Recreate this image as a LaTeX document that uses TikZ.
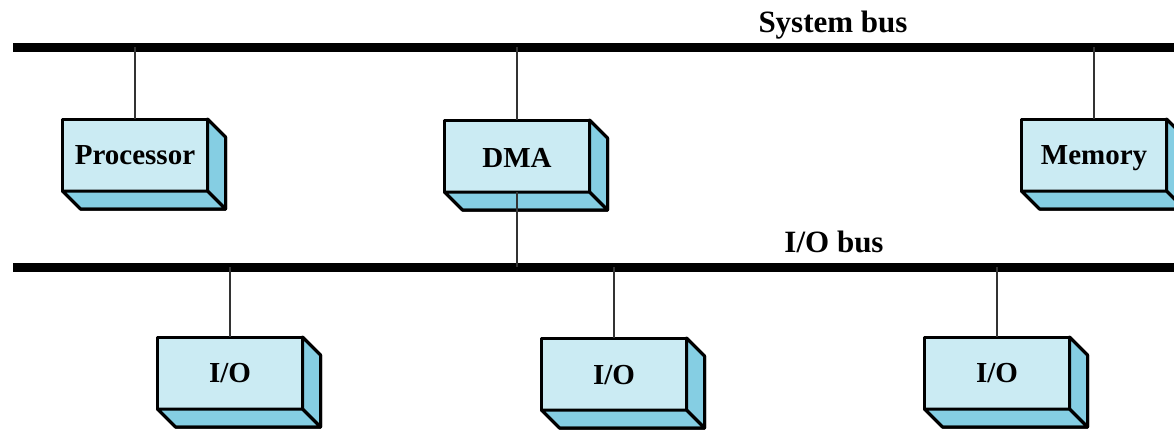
\documentclass[tikz,border=0pt]{standalone}
\usepackage{fontspec}
\setmainfont{Liberation Serif}
\usetikzlibrary{calc}
\definecolor{frontc}{RGB}{203,235,243}
\definecolor{sidec}{RGB}{133,206,227}
\tikzset{
  boxfront/.style={draw=black, fill=frontc, line width=3pt, line join=round,
    minimum width=145pt, minimum height=72pt, inner sep=0pt, outer sep=0pt},
  sideface/.style={draw=black, fill=sidec, line width=3pt, line join=round},
  boxlabel/.style={font=\fontsize{29}{31}\selectfont\bfseries, anchor=base, inner sep=0pt},
  bus/.style={line width=9pt},
  conn/.style={line width=1.8pt, draw=black!80},
  buslabel/.style={font=\fontsize{31}{33}\selectfont\bfseries, anchor=base, inner sep=0pt}
}
\newcommand\boxthreed[4]{%
  \node[boxfront] (#1) at (#2) {};
  \fill[sideface] (#1.north east) -- ++(18,18) -- ($(#1.south east)+(18,18)$) -- (#1.south east) -- cycle;
  \fill[sideface] (#1.south west) -- (#1.south east) -- ++(18,18) -- ($(#1.south west)+(18,18)$) -- cycle;
  \draw[line width=3pt, line join=round] (#1.north east) -- ++(18,18) -- ($(#1.south east)+(18,18)$) -- ($(#1.south west)+(18,18)$) -- (#1.south west);
  \draw[line width=3pt] (#1.south east) -- ++(18,18);
  \node[boxlabel] (#1-t) at ($(#1)+(0,#4)$) {#3};
}
\begin{document}
\begin{tikzpicture}[x=1pt,y=-1pt]
\useasboundingbox (0,0) rectangle (1174,434);
% buses
\coordinate (sysL) at (13,47);
\coordinate (sysR) at (1174,47);
\coordinate (ioL) at (13,267);
\coordinate (ioR) at (1174,267);
\draw[bus] (sysL) -- (sysR);
\draw[bus] (ioL) -- (ioR);
\node[buslabel] (syslab) at (833,32) {System bus};
\node[buslabel] (iolab) at (834,252) {I/O bus};
% boxes
\boxthreed{proc}{135,155}{Processor}{9}
\boxthreed{dma}{517,156}{DMA}{11}
\boxthreed{mem}{1094,155}{Memory}{9}
\boxthreed{io1}{230,373}{I/O}{9}
\boxthreed{io2}{614,374}{I/O}{10}
\boxthreed{io3}{997,373}{I/O}{9}
% connectors
\draw[conn] (proc.north) -- (proc.north |- sysL);
\draw[conn] (dma.north) -- (dma.north |- sysL);
\draw[conn] (mem.north) -- (mem.north |- sysL);
\draw[conn] (dma.south) -- (dma.south |- ioL);
\draw[conn] (io1.north) -- (io1.north |- ioL);
\draw[conn] (io2.north) -- (io2.north |- ioL);
\draw[conn] (io3.north) -- (io3.north |- ioL);
\end{tikzpicture}
\end{document}
